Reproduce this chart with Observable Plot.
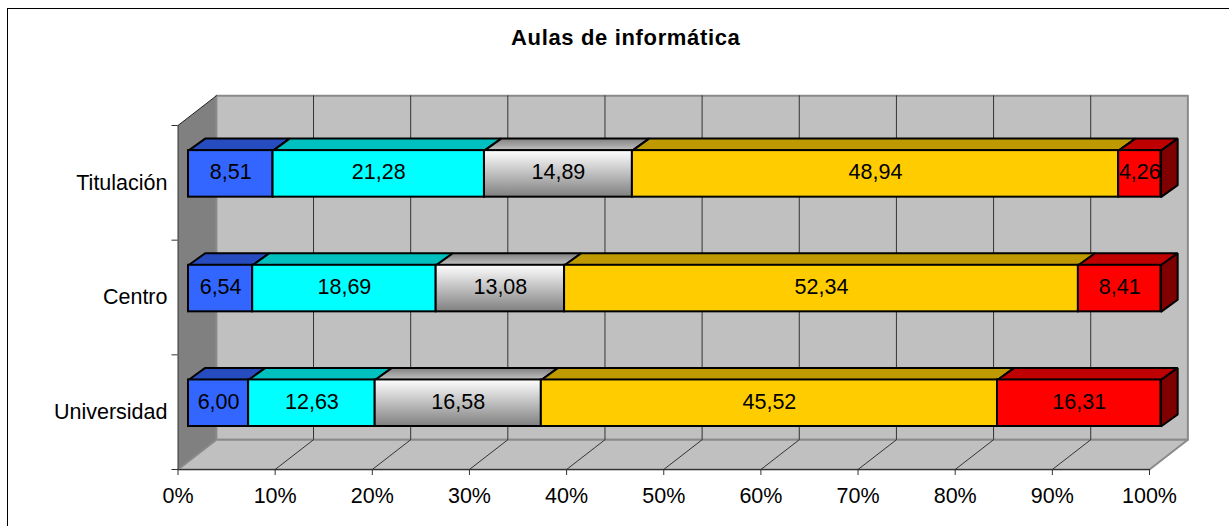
<!DOCTYPE html>
<html>
<head>
<meta charset="utf-8">
<script src="https://cdn.jsdelivr.net/npm/d3@7"></script>
<script src="https://cdn.jsdelivr.net/npm/@observablehq/plot@0.6"></script>
<style>
  html, body { margin: 0; padding: 0; background: #fff; overflow: hidden; }
  #chart { position: relative; width: 1229px; height: 526px; overflow: hidden; }
  #border { position: absolute; left: 7px; top: 8px; width: 1300px; height: 600px; border: 1.5px solid #000; box-sizing: border-box; }
  #chart svg { position: absolute; left: 0; top: 0; background: transparent; }
</style>
</head>
<body>
<div id="chart"><div id="border"></div></div>
<script>
const chartTitle = "Aulas de informática";
const categories = ["Universidad", "Centro", "Titulación"];
const seriesNames = ["A", "B", "C", "D", "E"];
const seriesA = [6.00, 6.54, 8.51];
const seriesB = [12.63, 18.69, 21.28];
const seriesC = [16.58, 13.08, 14.89];
const seriesD = [45.52, 52.34, 48.94];
const seriesE = [16.31, 8.41, 4.26];
const seriesValues = [seriesA, seriesB, seriesC, seriesD, seriesE];
const percentTicks = [0, 10, 20, 30, 40, 50, 60, 70, 80, 90, 100];
const gridTicks = [10, 20, 30, 40, 50, 60, 70, 80, 90];
const levelTicks = [0, 1, 2, 3];

const frontFills = ["#3366FF", "#00FFFF", "url(#greyFront)", "#FFCC00", "#FF0000"];
const topFills = ["#264CBF", "#00BFBF", "url(#greyTop)", "#BF9900", "#BF0000"];
const sideFill = "#7F0000";
const wallFill = "#C0C0C0";
const sideWallFill = "#808080";

// oblique projection of the depth axis, in data units
const wallDX = 3.95, wallDY = 0.2595;
const barShiftX = 1.08, barShiftY = 0.078, barDepthX = 1.72, barDepthY = 0.105;
const barHalf = 0.203, barStretch = 1.001;

const segs = [], tops = [], sides = [];
categories.forEach((cat, c) => {
  const sum = d3.sum(seriesValues, s => s[c]);
  let acc = 0;
  const y1 = c + 0.5 + barShiftY - barHalf, y2 = c + 0.5 + barShiftY + barHalf;
  seriesValues.forEach((s, i) => {
    const v = s[c];
    const x1 = barShiftX + acc / sum * 100 * barStretch;
    acc += v;
    const x2 = barShiftX + acc / sum * 100 * barStretch;
    segs.push({cat, value: v, x1, x2, y1, y2, fill: frontFills[i]});
    const id = cat + seriesNames[i];
    [[x1, y2], [x2, y2], [x2 + barDepthX, y2 + barDepthY], [x1 + barDepthX, y2 + barDepthY]]
      .forEach(([x, y]) => tops.push({id, x, y, fill: topFills[i]}));
    if (i === seriesValues.length - 1) {
      [[x2, y1], [x2 + barDepthX, y1 + barDepthY], [x2 + barDepthX, y2 + barDepthY], [x2, y2]]
        .forEach(([x, y]) => sides.push({id, x, y, fill: sideFill}));
    }
  });
});

const top3 = levelTicks[levelTicks.length - 1];
const backWall = [[0, 0], [100, 0], [100, top3], [0, top3]].map(([x, y]) => ({x: x + wallDX, y: y + wallDY}));
const floor = [[0, 0], [100, 0], [100 + wallDX, wallDY], [wallDX, wallDY]].map(([x, y]) => ({x, y}));
const sideWall = [[0, 0], [wallDX, wallDY], [wallDX, top3 + wallDY], [0, top3]].map(([x, y]) => ({x, y}));
const grid = gridTicks.flatMap(p => [
  {g: p, x: p, y: 0},
  {g: p, x: p + wallDX, y: wallDY},
  {g: p, x: p + wallDX, y: top3 + wallDY}
]);

const greyDefs = () => {
  const defs = d3.create("svg:defs");
  const add = (id, a, b) => {
    const g = defs.append("linearGradient").attr("id", id).attr("x1", 0).attr("y1", 0).attr("x2", 0).attr("y2", 1);
    g.append("stop").attr("offset", "0%").attr("stop-color", a);
    g.append("stop").attr("offset", "100%").attr("stop-color", b);
  };
  add("greyFront", "#FFFFFF", "#808080");
  add("greyTop", "#808080", "#C4C4C4");
  return defs.node();
};

const polyOpts = {x: "x", y: "y", z: "id", fill: "fill", stroke: "#000", strokeWidth: 2,
  curve: "linear-closed", strokeLinejoin: "miter"};

const chart = Plot.plot({
  width: 1229,
  height: 526,
  marginLeft: 177.5,
  marginRight: 80,
  marginTop: 125,
  marginBottom: 57,
  style: {fontFamily: "'Liberation Sans', Arial, sans-serif", color: "#000", background: "transparent"},
  x: {domain: [0, 100]},
  y: {domain: [0, top3]},
  color: {type: "identity"},
  marks: [
    greyDefs,
    Plot.line(sideWall, {x: "x", y: "y", fill: sideWallFill, stroke: "none", curve: "linear-closed"}),
    Plot.line(backWall, {x: "x", y: "y", fill: wallFill, stroke: "#8A8A8A", strokeWidth: 2, curve: "linear-closed"}),
    Plot.line(floor, {x: "x", y: "y", fill: wallFill, stroke: "#8A8A8A", strokeWidth: 2, curve: "linear-closed"}),
    Plot.line(grid, {x: "x", y: "y", z: "g", stroke: "#333", strokeWidth: 1}),
    Plot.line([{x: 0, y: top3}, {x: wallDX, y: top3 + wallDY}], {x: "x", y: "y", stroke: "#222", strokeWidth: 1}),
    Plot.ruleX([0], {y1: 0, y2: top3, stroke: "#333"}),
    Plot.ruleY([0], {x1: 0, x2: 100, stroke: "#333"}),
    Plot.axisX({ticks: percentTicks, tickFormat: d => d + "%", tickSize: 6, tickPadding: 12, fontSize: 21.5, label: null, stroke: "#333"}),
    Plot.axisY({ticks: levelTicks, tickFormat: () => "", tickSize: 6, label: null, stroke: "#333"}),
    Plot.axisY({ticks: categories.map((d, i) => i + 0.5), tickFormat: d => categories[Math.floor(d)], tickSize: 0, tickPadding: 10.5, fontSize: 21.5, label: null}),
    Plot.line(tops, polyOpts),
    Plot.line(sides, polyOpts),
    Plot.rect(segs, {x1: "x1", x2: "x2", y1: "y1", y2: "y2", fill: "fill", stroke: "#000", strokeWidth: 2}),
    Plot.text(segs, {
      x: d => (d.x1 + d.x2) / 2,
      y: d => (d.y1 + d.y2) / 2,
      dy: -1.5,
      text: d => d.value.toFixed(2).replace(".", ","),
      fontSize: 21.5, fill: "#000"
    }),
    Plot.text([chartTitle], {
      frameAnchor: "top", dx: -38, dy: -87.5, lineAnchor: "middle",
      fontSize: 22, fontWeight: "bold", fill: "#000"
    })
  ]
});
d3.select(chart).selectAll("text").filter(function () { return this.textContent === chartTitle; })
  .style("letter-spacing", "0.65px");
document.getElementById("chart").appendChild(chart);
</script>
</body>
</html>
